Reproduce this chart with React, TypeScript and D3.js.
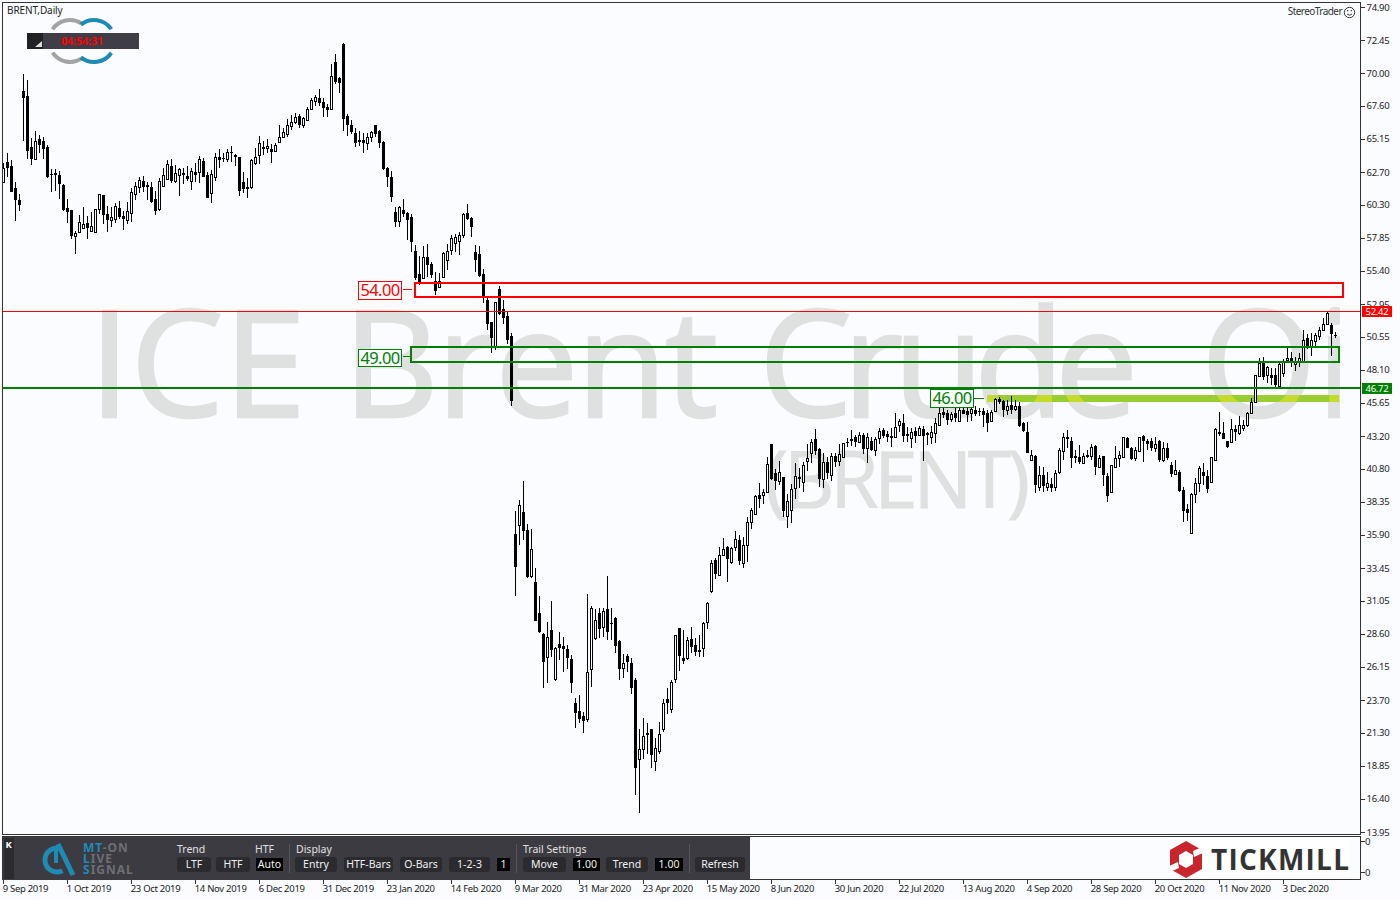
import React from 'react';
import * as d3 from 'd3';

const highs = [
63.38,64.12,63.60,61.97,61.09,69.95,69.51,65.22,65.74,65.45,65.30,64.71,62.93,62.93,62.79,61.83,60.72,59.91,58.35,59.54,
60.13,59.46,59.76,59.98,61.09,61.01,60.20,60.13,60.42,60.57,59.83,60.50,61.53,61.97,62.34,62.42,61.97,61.97,61.31,62.27,
63.01,63.60,63.67,63.23,63.01,63.01,63.16,63.01,63.38,63.89,63.75,62.71,62.86,64.12,64.41,64.12,64.41,64.63,64.04,63.82,
62.71,62.27,63.67,64.49,65.37,65.00,65.15,64.78,64.86,66.19,65.96,66.63,66.92,67.07,67.00,66.78,67.52,68.18,68.40,68.85,
68.18,67.74,70.69,71.43,69.73,72.24,67.00,66.55,65.96,65.74,65.59,65.59,65.74,66.19,65.82,65.00,63.08,62.79,60.13,60.20,
60.72,59.76,59.61,57.32,56.51,57.25,57.39,56.06,55.33,55.25,56.80,57.39,58.06,58.13,58.28,59.68,60.35,59.39,57.32,57.25,
55.55,53.40,51.63,53.11,54.29,53.26,52.37,50.82,37.67,38.48,39.88,36.71,36.34,33.45,31.39,28.65,29.47,31.02,27.62,28.73,
28.36,27.77,27.03,23.85,24.07,22.81,31.54,30.65,30.42,30.50,30.50,32.87,30.50,29.84,28.14,27.11,27.11,26.81,25.33,21.56,
22.37,22.00,21.56,20.89,22.07,23.77,24.59,25.18,28.51,29.03,28.87,28.36,29.10,28.29,28.51,29.47,30.95,34.06,34.19,35.00,
35.67,35.08,35.00,36.19,35.89,35.75,37.22,37.89,38.85,39.74,39.29,41.66,42.62,40.77,41.36,40.18,38.92,39.66,41.21,40.84,
41.29,42.62,43.00,43.73,42.32,41.95,41.66,41.95,41.95,42.62,42.70,43.06,43.65,43.28,43.50,43.43,43.43,43.14,43.14,43.80,
43.80,43.58,43.80,44.91,44.46,44.83,43.87,43.80,43.87,43.95,43.95,43.50,43.95,44.54,45.50,45.42,45.13,44.98,45.42,45.35,
45.50,45.28,45.35,45.42,45.28,45.28,45.13,45.13,46.02,46.09,45.87,45.87,46.16,45.87,45.72,44.24,44.24,42.18,41.81,41.00,
40.92,40.55,40.11,40.70,42.32,43.43,43.65,43.14,42.18,42.55,41.95,42.18,42.62,42.55,41.81,41.73,40.47,41.07,42.47,42.10,
43.14,43.14,42.40,42.40,43.14,43.28,43.00,43.06,43.14,42.92,42.77,42.70,41.29,41.44,40.70,39.44,38.18,39.00,40.11,40.99,
41.21,40.70,41.66,43.80,44.98,44.24,42.84,44.46,44.02,44.69,44.39,44.98,46.02,47.72,48.97,49.05,48.38,48.23,48.23,48.60,
48.90,49.78,49.41,49.05,49.34,51.04,50.75,50.82,50.82,51.26,51.93,52.37,51.56,50.89];

const lows = [
61.90,62.34,61.24,59.09,59.83,65.00,63.67,63.23,63.60,64.12,63.67,62.27,61.24,61.31,60.72,59.83,58.94,57.76,56.65,58.21,
58.58,57.76,58.28,58.21,59.61,58.87,58.28,58.65,58.94,59.24,58.43,58.87,59.02,60.64,61.16,61.24,60.64,60.42,59.54,59.83,
61.68,62.20,61.90,61.90,60.94,61.83,62.05,61.38,61.97,61.90,62.34,60.79,60.42,62.05,63.01,63.45,63.45,63.45,63.16,60.94,
61.16,60.79,61.46,63.23,63.30,63.97,64.12,63.38,64.19,64.86,65.22,65.30,65.82,66.26,65.96,65.96,66.48,67.37,67.59,67.59,
66.78,66.78,67.29,69.21,68.55,65.74,65.37,65.52,64.56,64.63,64.12,64.34,64.93,65.30,64.49,62.86,61.60,60.50,58.65,58.65,
59.39,57.69,56.80,54.73,54.36,54.88,54.95,54.88,53.63,54.22,54.95,55.47,56.58,56.80,56.58,57.84,59.17,57.91,55.33,54.95,
53.03,51.04,49.34,49.56,52.15,51.48,50.00,45.42,31.39,35.16,35.53,32.72,32.72,29.54,28.65,24.59,24.96,26.88,25.11,26.66,
25.77,25.99,24.22,21.64,22.00,21.27,22.07,24.66,28.14,28.29,28.36,28.14,28.14,27.18,25.18,25.33,25.77,24.15,16.68,15.36,
19.34,19.71,18.65,18.45,19.71,21.34,22.67,22.74,24.96,25.85,26.36,26.66,27.18,26.96,26.88,26.88,28.95,31.61,32.64,32.94,
34.41,32.42,33.75,34.71,33.68,33.45,33.90,36.34,37.37,37.89,38.18,39.00,39.96,39.22,39.59,37.22,36.41,36.78,38.55,39.37,
39.07,40.62,41.21,41.81,39.44,39.37,40.03,39.88,40.92,41.00,41.66,42.40,42.47,42.40,42.70,41.88,41.21,42.10,41.73,42.62,
43.06,42.77,42.40,43.14,43.50,42.77,42.77,42.32,42.70,43.21,41.36,42.55,42.62,42.70,43.95,44.54,44.02,44.24,44.24,44.24,
44.83,44.24,44.32,44.69,44.69,43.87,43.50,44.24,44.98,45.57,44.61,44.76,44.83,45.06,43.87,43.50,41.95,41.36,39.00,39.14,
39.07,39.14,39.07,39.14,40.40,41.44,42.32,40.84,41.21,41.14,41.14,41.58,41.44,40.33,40.84,39.51,38.33,39.07,40.92,40.92,
41.66,42.32,41.44,41.36,42.10,41.29,42.18,42.10,42.03,41.29,41.29,41.44,40.18,40.33,39.07,36.85,36.93,35.97,38.26,39.07,
39.59,39.00,39.74,41.36,43.21,43.00,42.32,42.77,42.84,43.28,43.58,43.87,44.83,45.72,47.57,47.35,47.13,46.98,46.83,46.83,
47.57,48.68,48.31,48.01,48.31,48.68,49.64,49.12,49.78,50.30,50.97,51.41,49.12,50.45];

const opens = [
61.97,63.45,63.16,61.53,60.64,68.70,68.33,64.56,63.67,65.15,65.00,64.56,62.57,62.64,62.49,61.75,60.05,59.91,57.98,58.28,
58.58,58.94,58.35,58.28,59.98,61.01,59.61,59.17,59.24,60.05,59.46,59.17,59.68,61.09,61.60,62.05,61.75,61.60,60.72,59.98,
61.68,62.20,63.16,62.05,62.49,62.64,62.42,62.05,62.71,62.71,63.53,62.49,61.16,62.34,63.82,63.75,63.67,64.19,63.97,63.82,
61.97,61.60,61.60,63.38,63.97,64.56,64.49,64.41,64.26,64.93,65.30,65.52,66.11,66.41,66.85,66.19,66.55,67.37,67.96,68.18,
67.88,67.52,67.37,70.84,69.66,72.17,66.85,66.19,65.59,65.08,65.08,64.86,65.30,66.19,65.74,64.93,63.01,62.34,59.76,59.09,
59.91,59.68,59.39,56.88,55.18,54.88,56.43,55.92,54.66,54.22,54.95,56.21,56.95,57.47,57.62,58.06,59.68,59.31,56.80,56.65,
55.18,53.26,51.63,49.86,54.07,52.59,52.07,50.60,35.97,36.63,37.59,36.26,32.87,32.42,30.13,28.58,26.88,28.87,25.26,27.85,
27.70,27.47,26.73,23.48,22.89,22.52,22.30,25.99,28.29,30.13,29.10,30.42,29.40,29.77,28.07,26.07,26.96,26.44,25.18,19.34,
20.08,21.27,21.56,19.19,19.93,21.56,23.77,23.03,25.26,29.03,26.81,26.81,28.21,27.77,27.40,27.55,29.47,31.76,34.04,32.94,
34.41,35.00,33.90,35.00,35.52,33.82,35.16,36.85,37.44,38.85,38.85,39.07,42.62,40.47,39.88,40.18,37.30,37.74,39.37,40.18,
39.81,41.36,41.95,43.00,42.25,40.03,41.29,40.33,41.73,41.36,41.66,42.77,43.00,43.14,42.77,43.28,42.32,42.84,42.18,43.06,
43.65,43.36,43.21,43.14,44.02,44.17,43.36,43.06,43.58,43.28,43.73,43.43,43.14,43.43,44.02,44.98,44.91,44.46,44.91,44.32,
45.13,45.06,44.91,45.13,45.06,45.06,44.91,44.32,45.06,45.94,45.79,45.13,45.50,45.20,45.42,44.17,43.50,41.44,41.73,39.44,
40.33,39.44,39.66,39.44,40.55,42.10,43.14,42.84,41.73,41.66,41.21,41.81,41.73,42.47,40.92,41.73,40.25,39.07,40.92,41.58,
41.66,43.06,42.32,41.58,42.10,43.21,42.84,42.84,42.32,42.84,41.44,42.32,41.07,40.40,40.55,39.22,37.81,36.04,38.92,39.74,
40.55,40.25,39.81,41.44,43.50,43.43,42.84,42.77,43.73,43.43,43.80,44.02,44.91,45.72,47.65,48.61,47.72,47.72,47.72,46.90,
47.87,48.82,48.97,48.53,48.68,48.75,50.45,49.86,50.23,50.60,51.04,51.48,51.41,50.67];

const closes = [
63.01,63.01,61.24,60.64,60.27,68.18,64.26,63.67,65.00,64.71,64.41,62.34,62.49,62.49,61.83,59.91,59.76,57.98,58.21,59.02,
58.87,58.58,58.72,59.98,61.09,59.54,59.17,59.39,60.20,59.39,59.24,59.83,61.24,61.68,62.12,61.60,61.60,60.50,59.83,62.05,
62.49,63.30,62.05,62.64,62.93,62.49,62.20,62.79,62.49,63.67,62.34,60.79,62.57,63.82,63.60,63.67,64.19,64.12,63.82,61.31,
61.46,61.46,63.60,63.82,64.86,64.41,64.63,64.19,64.71,65.30,65.67,66.19,66.41,66.78,66.19,66.70,67.37,68.03,68.25,67.81,
67.44,67.29,69.81,69.36,69.29,66.63,66.19,65.67,64.86,64.93,64.86,65.30,65.67,65.52,64.86,62.93,62.34,60.87,59.02,60.13,
59.61,59.17,57.54,54.88,54.51,56.43,55.84,55.10,53.92,54.66,56.73,56.88,57.84,57.91,58.06,59.61,59.24,58.65,56.21,55.03,
53.40,51.48,50.45,53.11,52.22,51.93,50.30,45.79,33.53,38.11,36.19,32.79,34.86,29.54,28.72,26.51,28.36,27.40,27.55,27.55,
27.47,26.81,24.96,22.74,22.30,22.15,25.77,30.50,29.62,28.95,30.28,28.73,29.32,27.70,25.99,26.44,26.51,24.59,18.69,20.08,
21.04,21.12,19.64,20.15,21.19,23.48,23.48,25.03,28.51,26.96,26.58,28.14,27.62,27.25,27.25,29.40,30.87,33.82,33.01,34.41,
34.86,34.12,34.93,35.60,33.97,35.16,36.85,37.74,38.78,38.55,39.07,41.14,40.03,39.88,40.55,37.67,38.41,39.29,40.25,40.03,
41.07,41.58,42.77,42.10,40.03,41.29,40.47,41.73,41.29,41.88,42.70,42.70,42.84,42.77,43.28,42.25,43.14,42.18,43.00,43.58,
43.21,43.14,43.06,43.87,44.32,43.21,43.21,43.50,43.21,43.80,43.21,43.28,43.50,44.17,44.91,44.76,44.39,44.83,44.54,45.13,
44.83,44.76,45.20,44.83,44.98,44.76,44.17,44.98,45.94,45.72,45.13,45.42,45.13,45.42,43.95,43.58,41.95,41.81,39.59,40.33,
39.51,39.74,39.37,40.47,42.18,43.14,43.00,41.58,41.58,41.29,41.73,41.66,42.40,40.92,41.58,40.33,38.77,41.07,41.58,41.81,
43.14,42.32,41.51,42.18,43.14,42.84,42.62,42.32,42.62,41.44,42.32,41.58,40.40,40.70,39.14,37.67,37.52,38.92,39.74,40.84,
40.25,39.29,41.66,43.73,43.36,43.00,42.40,43.73,43.50,44.02,44.02,44.91,45.72,47.72,48.61,47.57,48.31,47.50,46.98,48.53,
48.68,48.97,48.60,48.75,48.97,50.30,49.78,50.30,50.67,51.04,51.48,52.29,50.74,50.60];

const priceTicks = ['74.90','72.45','70.00','67.60','65.15','62.70','60.30','57.85','55.40','52.95','50.55','48.10','45.65','43.20','40.80','38.35','35.90','33.45','31.05','28.60','26.15','23.70','21.30','18.85','16.40','13.95'];
const dateTicks = ['9 Sep 2019','1 Oct 2019','23 Oct 2019','14 Nov 2019','6 Dec 2019','31 Dec 2019','23 Jan 2020','14 Feb 2020','9 Mar 2020','31 Mar 2020','23 Apr 2020','15 May 2020','8 Jun 2020','30 Jun 2020','22 Jul 2020','13 Aug 2020','4 Sep 2020','28 Sep 2020','20 Oct 2020','11 Nov 2020','3 Dec 2020'];
const lastPrice = 52.42;
const linePrice = 46.72;
const redZone = [54.51, 53.48];
const greenZone = [49.78, 48.68];

const UI = '"Noto Sans", sans-serif';
const WM = '"Open Sans", sans-serif';
const BG = '#fafcff';
const RED = '#ff0000';
const GREEN = '#008000';

const x = d3.scaleLinear().domain([0, highs.length - 1]).range([3.5, 1335.5]);
const y = d3.scaleLinear().domain([74.9, 13.95]).range([7, 832]);
const xDate = d3.scaleLinear().domain([0, dateTicks.length - 1]).range([3, 1283]);

const panelButtons: [string, number, number, boolean][] = [
  ['LTF', 177, 211, false], ['HTF', 216, 250, false], ['Auto', 256, 283, true],
  ['Entry', 295, 337, false], ['HTF-Bars', 344, 393, false], ['O-Bars', 400, 442, false],
  ['1-2-3', 449, 490, false], ['1', 497, 510, true],
  ['Move', 523, 566, false], ['1.00', 573, 600, true], ['Trend', 606, 648, false], ['1.00', 655, 683, true],
  ['Refresh', 695, 745, false],
];
const panelHeads: [string, number][] = [['Trend', 177], ['HTF', 255], ['Display', 296], ['Trail Settings', 523]];

function Tag({ label, bx, by, bw, bh, color, lx1, lx2, ly }: any) {
  return (
    <g>
      <rect x={bx + 0.5} y={by + 0.5} width={bw} height={bh} fill={BG} stroke={color} shapeRendering="crispEdges" />
      <text x={bx + bw / 2 + 0.5} y={by + bh / 2 + 6} fontFamily={UI} fontSize={16.5} letterSpacing={-0.6} fill={color} textAnchor="middle">{label}</text>
      <line x1={lx1} x2={lx2} y1={ly + 0.5} y2={ly + 0.5} stroke={color} shapeRendering="crispEdges" />
    </g>
  );
}

function arcPath(cx: number, cy: number, r: number, a0: number, a1: number, ccw = false) {
  const p = d3.path();
  p.arc(cx, cy, r, a0, a1, ccw);
  return p.toString();
}

const wmWords: [string, number, number, number, number, number][] = [
  ['ICE', 89, 417, 148, 217, 2.5],
  ['Brent', 343, 417, 148, 375, 2.5],
  ['Crude', 759, 417, 148, 379, 2.5],
  ['Oi', 1201, 417, 148, 153, 2.5],
  ['(BRENT)', 765, 508, 78, 265, 1],
];

export default function App() {
  return (
    <svg width={1400} height={900} style={{ position: 'fixed', left: 0, top: 0, display: 'block' }}>
      <defs>
        <clipPath id="plot"><rect x={3} y={3} width={1337} height={832} /></clipPath>
        <clipPath id="wmclip">
          {wmWords.map(([t, wx, wy, fs, len]) => (
            <text key={t} x={wx} y={wy} fontFamily={WM} fontSize={fs} textLength={len} lengthAdjust="spacing">{t}</text>
          ))}
        </clipPath>
      </defs>
      <rect width={1400} height={900} fill={BG} />

      {/* watermark */}
      <g clipPath="url(#plot)">
        {wmWords.map(([t, wx, wy, fs, len, sw]) => (
          <text key={t} x={wx} y={wy} fontFamily={WM} fontSize={fs} textLength={len} lengthAdjust="spacing" fill="#dfe0e0" stroke="#dfe0e0" strokeWidth={sw}>{t}</text>
        ))}
      </g>

      {/* support band */}
      <rect x={987} y={395} width={352} height={7} fill="#9acd32" shapeRendering="crispEdges" />
      <rect x={987} y={395} width={352} height={7} fill="#c3dc2c" clipPath="url(#wmclip)" />

      {/* candles */}
      <g shapeRendering="crispEdges">
        {highs.map((h, i) => {
          const cx = x(i);
          const up = closes[i] >= opens[i];
          const top = Math.round(y(Math.max(opens[i], closes[i])));
          const bot = Math.round(y(Math.min(opens[i], closes[i])));
          const px = Math.floor(cx);
          return (
            <g key={i}>
              <line x1={px + 0.5} x2={px + 0.5} y1={Math.round(y(h))} y2={Math.round(y(lows[i]))} stroke="#000" />
              {up ? (
                <rect x={px - 0.5} y={top + 0.5} width={2} height={Math.max(bot - top, 1)} fill="#fff" stroke="#000" />
              ) : (
                <rect x={px - 1} y={top} width={3} height={Math.max(bot - top, 1)} fill="#000" />
              )}
            </g>
          );
        })}
      </g>

      {/* levels and zones */}
      <g fill="none" shapeRendering="crispEdges">
        <line x1={3} x2={1361} y1={Math.round(y(lastPrice)) + 0.5} y2={Math.round(y(lastPrice)) + 0.5} stroke={RED} />
        <line x1={3} x2={1361} y1={Math.round(y(linePrice))} y2={Math.round(y(linePrice))} stroke={GREEN} strokeWidth={2} />
        <rect x={415} y={Math.round(y(redZone[0]))} width={928} height={Math.round(y(redZone[1]) - y(redZone[0]))} stroke={RED} strokeWidth={2} />
        <rect x={411} y={Math.round(y(greenZone[0]))} width={928} height={Math.round(y(greenZone[1]) - y(greenZone[0]))} stroke={GREEN} strokeWidth={2} />
      </g>
      <Tag label="54.00" bx={358} by={281} bw={43} bh={18} color={RED} lx1={403} lx2={412} ly={289} />
      <Tag label="49.00" bx={358} by={349} bw={43} bh={17} color={GREEN} lx1={403} lx2={410} ly={356} />
      <Tag label="46.00" bx={930} by={389} bw={43} bh={18} color={GREEN} lx1={974} lx2={984} ly={398} />

      {/* top-left captions */}
      <text x={7} y={14} fontFamily={UI} fontSize={10} letterSpacing={-0.1} fill="#222">BRENT,Daily</text>
      <g fill="none" strokeWidth={4}>
        <path d={arcPath(70, 41, 21, -2.55, -1.0)} stroke="#a3a3a3" />
        <path d={arcPath(94, 41, 21, -2.25, -0.6)} stroke="#1c8bb6" />
        <path d={arcPath(70, 41, 21, 1.0, 2.55)} stroke="#a3a3a3" />
        <path d={arcPath(94, 41, 21, 0.6, 2.25)} stroke="#1c8bb6" />
      </g>
      <g shapeRendering="crispEdges">
        <rect x={27} y={33} width={112} height={16} fill="#3f3d46" />
        <rect x={27} y={33} width={16} height={16} fill="#222226" />
      </g>
      <path d="M35 47 L42 47 L42 41 Z" fill="#ddd" />
      <text x={82} y={45} fontFamily={UI} fontWeight={700} fontSize={10.5} fill={RED} textAnchor="middle">04:54:31</text>

      <text x={1342} y={15} fontFamily={UI} fontSize={10} letterSpacing={-0.55} fill="#333" textAnchor="end">StereoTrader</text>
      <g fill="none" stroke="#333">
        <circle cx={1349.5} cy={12.5} r={5.2} />
        <path d="M1347 14 Q1349.5 16.5 1352 14" />
      </g>
      <circle cx={1347.7} cy={10.8} r={0.7} fill="#333" />
      <circle cx={1351.3} cy={10.8} r={0.7} fill="#333" />

      {/* frames */}
      <g fill="none" stroke="#333" shapeRendering="crispEdges">
        <rect x={2.5} y={2.5} width={1358} height={832} />
        <rect x={2.5} y={836.5} width={1358} height={43} />
      </g>

      {/* price axis */}
      <g shapeRendering="crispEdges" stroke="#333">
        {priceTicks.map((t) => (
          <line key={t} x1={1361} x2={1365} y1={Math.round(y(+t)) + 0.5} y2={Math.round(y(+t)) + 0.5} />
        ))}
        <line x1={1361} x2={1365} y1={841.5} y2={841.5} />
        <line x1={1361} x2={1365} y1={872.5} y2={872.5} />
      </g>
      <g fontFamily={UI} fontSize={9.5} letterSpacing={-0.3} fill="#222">
        {priceTicks.map((t) => (
          <text key={t} x={1366.5} y={y(+t) + 3.5}>{t}</text>
        ))}
        <text x={1365} y={845}>0</text>
        <text x={1365} y={876}>0</text>
      </g>
      <g fontFamily={UI} fontSize={9.5} letterSpacing={-0.3} fill="#fff" textAnchor="middle">
        <rect x={1362} y={Math.round(y(lastPrice)) - 5} width={30} height={11} fill={RED} shapeRendering="crispEdges" />
        <text x={1377} y={y(lastPrice) + 4}>{lastPrice.toFixed(2)}</text>
        <rect x={1362} y={Math.round(y(linePrice)) - 5} width={30} height={11} fill={GREEN} shapeRendering="crispEdges" />
        <text x={1377} y={y(linePrice) + 4}>{linePrice.toFixed(2)}</text>
      </g>

      {/* date axis */}
      <g>
        {dateTicks.map((d, i) => (
          <g key={i}>
            <line x1={Math.round(xDate(i)) + 0.5} x2={Math.round(xDate(i)) + 0.5} y1={880} y2={884} stroke="#333" shapeRendering="crispEdges" />
            <text x={xDate(i) - 0.3} y={892} fontFamily={UI} fontSize={9.5} letterSpacing={-0.3} fill="#222">{d}</text>
          </g>
        ))}
      </g>

      {/* control panel */}
      <rect x={3} y={837} width={747} height={43} fill="#3c3b42" shapeRendering="crispEdges" />
      <rect x={4} y={838} width={10} height={41} fill="#2c2b30" shapeRendering="crispEdges" />
      <text x={5.5} y={848} fontFamily={UI} fontSize={9.5} fontWeight={700} fill="#fff">K</text>
      <g stroke="#55545c" shapeRendering="crispEdges">
        {[289, 516, 689].map((sx) => <line key={sx} x1={sx + 0.5} x2={sx + 0.5} y1={844} y2={873} />)}
      </g>
      <g fill="none" stroke="#1c8bb6" strokeWidth={5}>
        <path d={arcPath(57, 860, 12, -1.2, 1.1, true)} />
        <path d="M58 844 L73 875" />
        <path d="M56 846 L56 863" strokeWidth={4} />
      </g>
      <g fontFamily={UI} fontWeight={700} fontSize={12} letterSpacing={1}>
        <text x={83} y={852}><tspan fill="#1c8bb6">MT</tspan><tspan fill="#6e6e75">-ON</tspan></text>
        <text x={83} y={863}><tspan fill="#1c8bb6">L</tspan><tspan fill="#6e6e75">IVE</tspan></text>
        <text x={83} y={874}><tspan fill="#1c8bb6">S</tspan><tspan fill="#6e6e75">IGNAL</tspan></text>
      </g>
      {panelHeads.map(([t, hx]) => (
        <text key={t + hx} x={hx} y={853} fontFamily={UI} fontSize={10.5} fill="#e0e0e0">{t}</text>
      ))}
      {panelButtons.map(([t, a, b, dark]) => (
        <g key={t + a}>
          <rect x={a} y={dark ? 858 : 857} width={b - a} height={dark ? 13 : 15} rx={dark ? 0 : 3} fill={dark ? '#000' : '#2b2a2f'} />
          <text x={(a + b) / 2} y={868} fontFamily={UI} fontSize={10.5} fill="#f0f0f0" textAnchor="middle">{t}</text>
        </g>
      ))}

      {/* Tickmill logo */}
      <rect x={1170} y={838} width={180} height={41} fill="#fff" shapeRendering="crispEdges" />
      <polygon points="1186,841 1202,850 1202,869 1186,878 1170,869 1170,850" fill="#c9252c" />
      <polygon points="1186,851 1193,855 1193,864 1186,868 1179,864 1179,855" fill="#fff" />
      <polygon points="1193,851 1202,847 1203,853 1194,857" fill="#fff" />
      <polygon points="1179,868 1170,872 1169,866 1178,862" fill="#fff" />
      <text x={1211} y={870} fontFamily='"Open Sans", sans-serif' fontWeight={700} fontSize={28} fill="#333" textLength={138} lengthAdjust="spacing">TICKMILL</text>
    </svg>
  );
}
